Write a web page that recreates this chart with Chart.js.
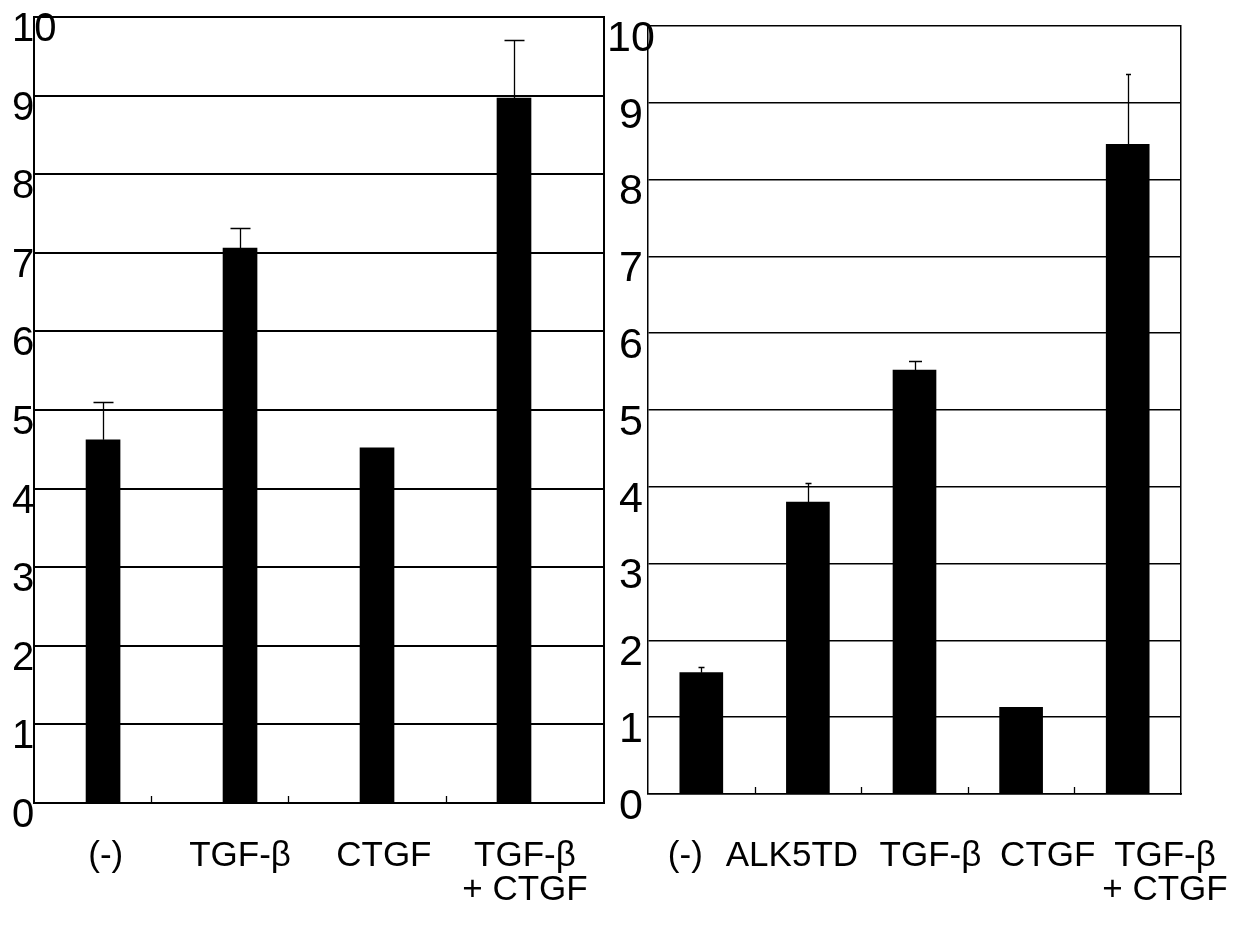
<!DOCTYPE html>
<html><head><meta charset="utf-8">
<script src="https://cdn.jsdelivr.net/npm/chart.js@4.4.1/dist/chart.umd.min.js"></script>
<style>
html,body{margin:0;padding:0;background:#fff;width:1254px;height:935px;overflow:hidden}
#l{position:absolute;left:0;top:0;width:620px;height:935px}
#r{position:absolute;left:600px;top:0;width:654px;height:935px}
</style></head><body>
<div id="l"><canvas id="cl"></canvas></div>
<div id="r"><canvas id="cr"></canvas></div>
<script>
// ---- data ----
const leftCategories = ['(-)', 'TGF-β', 'CTGF', ['TGF-β', '+ CTGF']];
const leftValues = [4.62, 7.06, 4.52, 8.97];
const leftErrors = [0.48, 0.26, 0, 0.74];
const leftTickMarks = [0.35, 1.35, 2.5];
const leftLabelPos = [0.02, 1.0, 2.05, 3.08];

const rightCategories = ['(-)', 'ALK5TD', 'TGF-β', 'CTGF', ['TGF-β', '+ CTGF']];
const rightValues = [1.58, 3.80, 5.52, 1.13, 8.46];
const rightErrors = [0.07, 0.25, 0.12, 0, 0.92];
const rightTickMarks = [0.5, 1.5, 2.5, 3.5];
const rightLabelPos = [-0.15, 0.85, 2.15, 3.25, 4.35];

const yTickLabels = ['0','1','2','3','4','5','6','7','8','9','10'];

const FONT = "'Liberation Sans', Arial, Helvetica, sans-serif";

const errorBars = {
  id: 'errorBars',
  afterDatasetsDraw(chart, args, opts) {
    const {ctx} = chart;
    const x = chart.scales.x, y = chart.scales.y;
    const ds = chart.data.datasets[0];
    ctx.save();
    ctx.strokeStyle = '#000';
    ctx.lineWidth = opts.lineWidth;
    ds.data.forEach((d, i) => {
      const e = opts.errors[i];
      if (!e) return;
      const px = Math.round(x.getPixelForValue(d.x)) + 0.5;
      const top = y.getPixelForValue(d.y);
      const et = Math.round(y.getPixelForValue(d.y + e)) + 0.5;
      const cap = opts.caps[i];
      ctx.beginPath();
      ctx.moveTo(px, top); ctx.lineTo(px, et);
      ctx.moveTo(px - cap / 2, et); ctx.lineTo(px + cap / 2, et);
      ctx.stroke();
    });
    // small category tick marks rising from the baseline
    const base = y.getPixelForValue(0);
    ctx.lineWidth = opts.tickWidth;
    opts.tickMarks.forEach(v => {
      const px = Math.round(x.getPixelForValue(v)) + 0.5;
      ctx.beginPath(); ctx.moveTo(px, base); ctx.lineTo(px, base - opts.tickLen); ctx.stroke();
    });
    ctx.restore();
  }
};

function makeChart(id, cats, vals, errs, tickMarks, labelPos, cfg) {
  return new Chart(document.getElementById(id), {
    type: 'bar',
    data: {
      datasets: [{
        data: vals.map((v, i) => ({x: i, y: v})),
        backgroundColor: '#000',
        borderWidth: 0,
        barThickness: cfg.barW
      }]
    },
    plugins: [errorBars],
    options: {
      responsive: true,
      maintainAspectRatio: false,
      animation: false,
      events: [],
      layout: {padding: cfg.padding},
      plugins: {
        legend: {display: false},
        tooltip: {enabled: false},
        errorBars: {errors: errs, caps: cfg.caps, lineWidth: 1.3, tickMarks: tickMarks, tickLen: 7, tickWidth: 1.3}
      },
      scales: {
        x: {
          type: 'linear',
          min: cfg.xmin, max: cfg.xmax,
          offset: false,
          grid: {display: true, drawOnChartArea: false, drawTicks: true, tickLength: cfg.xtl,
                 tickColor: 'rgba(0,0,0,0)', offset: false},
          border: {display: true, color: '#000', width: cfg.lw},
          afterBuildTicks: s => { s.ticks = labelPos.map(p => ({value: p})); },
          afterFit: s => { s.height = cfg.xh; },
          ticks: {
            autoSkip: false, maxRotation: 0, minRotation: 0,
            padding: 0,
            color: '#000',
            font: {family: FONT, size: cfg.xfs, lineHeight: 0.95},
            callback: (v, i) => cats[i]
          }
        },
        y: {
          min: 0, max: 10,
          afterBuildTicks: s => { s.ticks = yTickLabels.map((t, i) => ({value: i})); },
          afterFit: s => { s.width = cfg.yw; },
          grid: {color: '#000', lineWidth: cfg.lw, drawTicks: false},
          border: {display: true, color: '#000', width: cfg.lw},
          ticks: {
            mirror: true,
            padding: cfg.ypad,
            crossAlign: cfg.cross,
            labelOffset: cfg.yoff,
            color: '#000',
            font: {family: FONT, size: cfg.yfs},
            callback: (v, i) => yTickLabels[i]
          }
        },
        y2: {
          position: 'right',
          min: 0, max: 10,
          grid: {display: false, drawTicks: false},
          ticks: {display: false},
          border: {display: true, color: '#000', width: cfg.lw},
          afterFit: s => { s.width = cfg.y2w; }
        }
      }
    }
  });
}

makeChart('cl', leftCategories, leftValues, leftErrors, leftTickMarks, leftLabelPos, {
  padding: {left: 12, top: 17, right: 0, bottom: 0},
  xmin: -0.504, xmax: 3.657, barW: 34,
  xh: 132, xtl: 37, xfs: 35, y2w: 16,
  yw: 22, ypad: -22, cross: 'near', yoff: 13, yfs: 40,
  lw: 2, caps: [20, 20, 20, 20]
});

makeChart('cr', rightCategories, rightValues, rightErrors, rightTickMarks, rightLabelPos, {
  padding: {left: 0, top: 26, right: 0, bottom: 0},
  xmin: -0.5, xmax: 4.5, barW: 43,
  xh: 141, xtl: 46, xfs: 35, y2w: 73,
  yw: 48, ypad: -41, cross: 'center', yoff: 13, yfs: 43,
  lw: 1.5, caps: [6, 6, 13, 6, 5]
});
</script>
</body></html>
